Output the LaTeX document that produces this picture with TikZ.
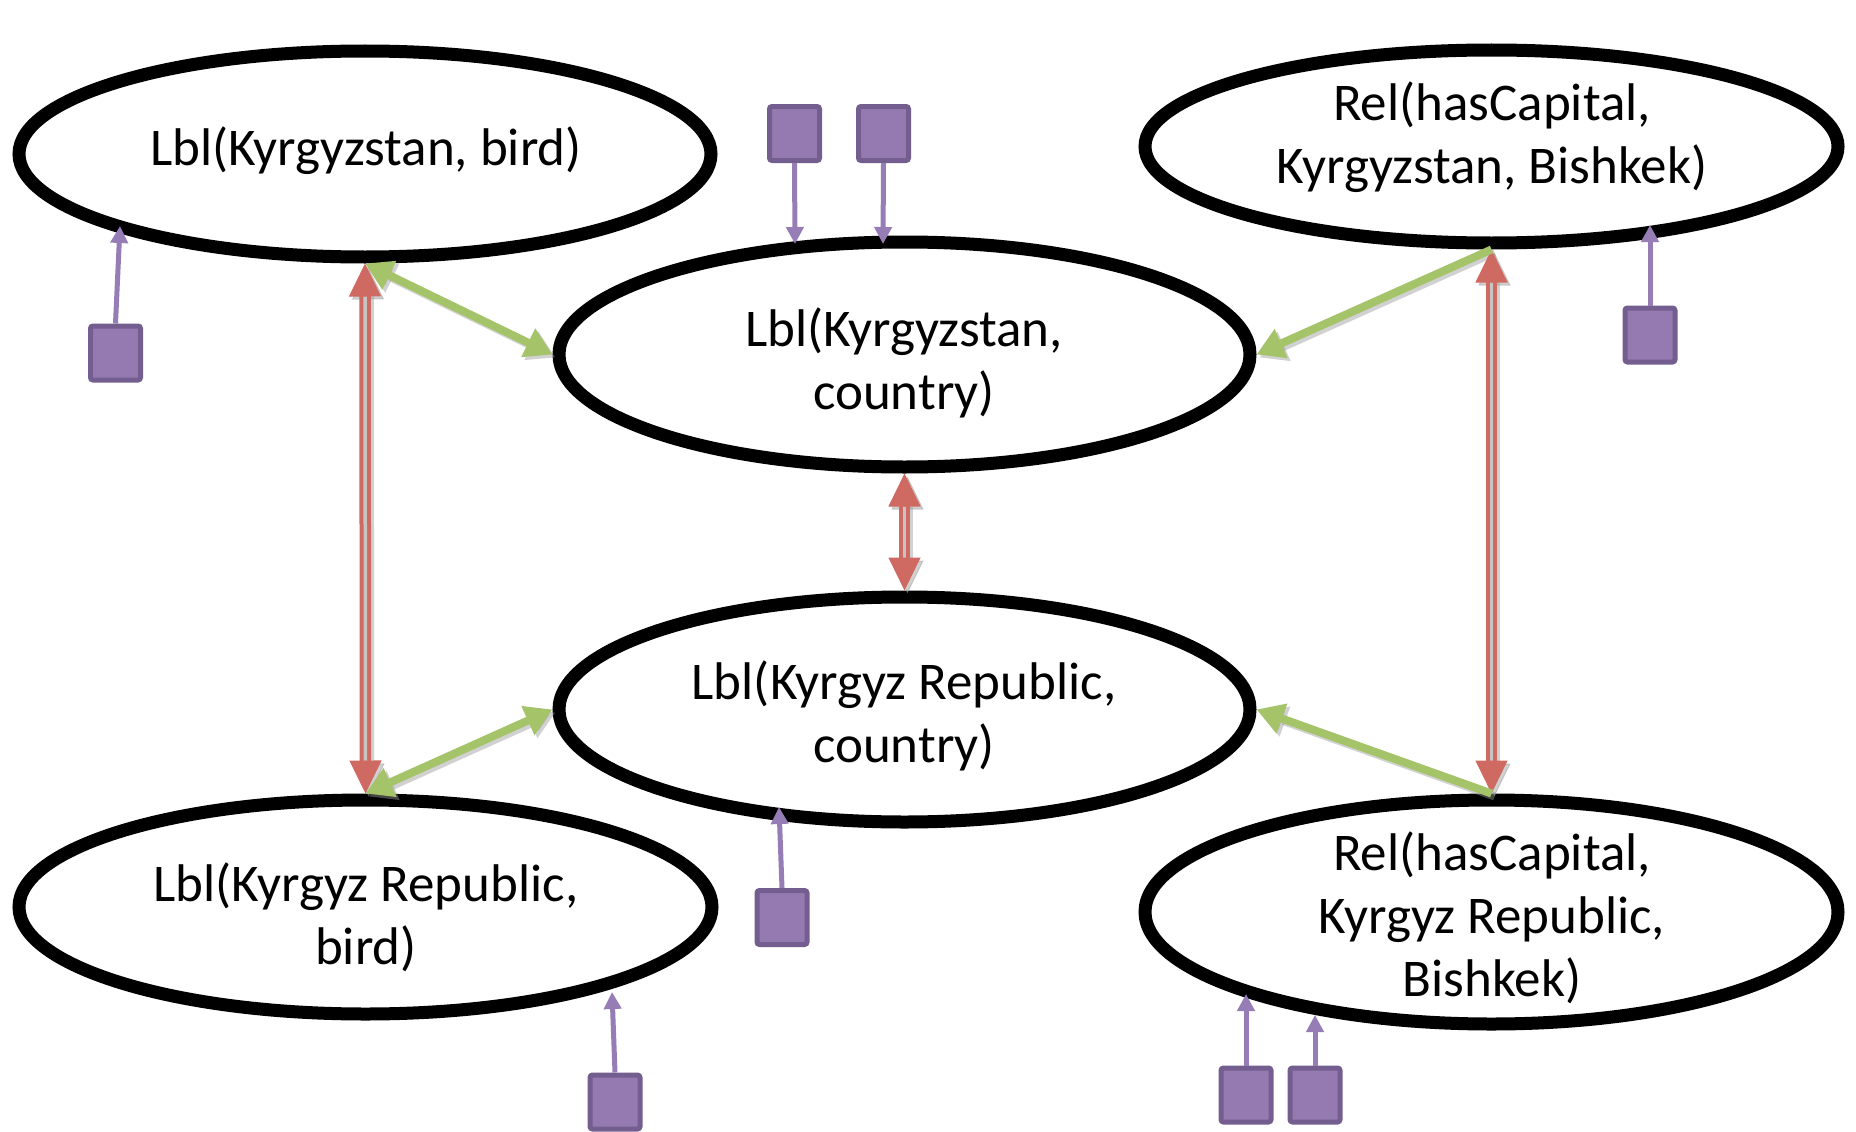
\documentclass[tikz,border=0pt]{standalone}
\usepackage{fontspec}
\setmainfont{Carlito}
\usetikzlibrary{shapes.geometric,arrows.meta,calc}

\definecolor{leaf}{HTML}{A5C46A}
\definecolor{brick}{HTML}{CF6A62}
\definecolor{plum}{HTML}{947AB0}
\definecolor{plumdark}{HTML}{735E8F}
\definecolor{plumline}{HTML}{967DB6}
\definecolor{gapgrey}{HTML}{C9C4C4}
\definecolor{shade}{HTML}{9A9A9A}

\tikzset{
  gtip/.tip={Triangle[width=30pt,length=27pt]},
  rtip/.tip={Triangle[width=32pt,length=33pt]},
  ptip/.tip={Triangle[width=17pt,length=17pt]},
}

% green links between facts
\newcommand\greenLinks{%
  \draw[glink, gtip-gtip] (e1.south) -- (e2.west);
  \draw[glink, -gtip] (e3.south) -- (e2.east);
  \draw[glink, gtip-gtip] (e5.north) -- (e4.west);
  \draw[glink, -gtip] (e6.north) -- (e4.east);
}
% red double links with a head at each end
\newcommand\redLink[2]{%
  \draw[rshaft] (#1) -- (#2);
  \draw[rhead, -rtip] ($(#1)!33pt!(#2)$) -- (#1);
  \draw[rhead, -rtip] ($(#2)!33pt!(#1)$) -- (#2);
}
\newcommand\redLinks{%
  \redLink{e1.south}{e5.north}
  \redLink{e3.south}{e6.north}
  \redLink{e2.south}{e4.north}
}

\begin{document}
\begin{tikzpicture}[x=1pt,y=-1pt,
  fact/.style={ellipse, draw=black, line width=13pt, fill=white, inner sep=0pt},
  caption/.style={align=center, inner sep=0pt, font=\fontsize{53}{63}\selectfont},
  evid/.style={rectangle, draw=plumdark, fill=plum, line width=5pt,
    rounded corners=2.5pt, minimum width=50pt, minimum height=54pt, inner sep=0pt},
  plink/.style={draw=plumline, line width=5pt, -ptip},
  glink/.style={draw=leaf, line width=8pt},
  rshaft/.style={draw=brick, line width=4pt, double=gapgrey, double distance=3.5pt,
    shorten <=30pt, shorten >=30pt},
  rhead/.style={draw=brick, fill=brick, line width=1pt},
]
\useasboundingbox (0,0) rectangle (1856,1132);
\fill[white] (0,0) rectangle (1856,1132);

% fact ellipses
\node[fact, minimum width=692pt, minimum height=206pt] (e1) at (365,154) {};
\node[fact, minimum width=691pt, minimum height=225pt] (e2) at (904.5,354.5) {};
\node[fact, minimum width=693pt, minimum height=193pt] (e3) at (1491.5,146.5) {};
\node[fact, minimum width=691pt, minimum height=225pt] (e4) at (904.5,709.5) {};
\node[fact, minimum width=693pt, minimum height=214pt] (e5) at (365.5,907) {};
\node[fact, minimum width=693pt, minimum height=224pt] (e6) at (1491.5,912) {};

% soft shadows under the links
\begin{scope}[transform canvas={shift={(3,3)}}, opacity=.45,
  glink/.style={draw=shade, line width=8pt},
  rshaft/.style={draw=shade, line width=11.5pt, shorten <=30pt, shorten >=30pt},
  rhead/.style={draw=shade, fill=shade, line width=1pt}]
  \greenLinks
  \redLinks
\end{scope}

% links
\redLinks
\greenLinks

% texts
\node[caption] (t1) at (366,151) {Lbl(Kyrgyzstan, bird)};
\node[caption] (t2) at (904,363) {Lbl(Kyrgyzstan,\\country)};
\node[caption] (t3) at (1492,137) {Rel(hasCapital,\\Kyrgyzstan, Bishkek)};
\node[caption] (t4) at (904,716) {Lbl(Kyrgyz Republic,\\country)};
\node[caption] (t5) at (366,917) {Lbl(Kyrgyz Republic,\\bird)};
\node[caption] (t6) at (1492,918) {Rel(hasCapital,\\Kyrgyz Republic,\\Bishkek)};

% arrow tips of the evidence links
\coordinate (p1) at (795,244);
\coordinate (p2) at (883,244);
\coordinate (p3) at (120,226);
\coordinate (p4) at (1650,225);
\coordinate (p5) at (779,807);
\coordinate (p6) at (612,992);
\coordinate (p7) at (1246,994);
\coordinate (p8) at (1315,1015);

% evidence squares
\node[evid] (s1) at (794.5,133.5) {};
\node[evid] (s2) at (883.5,133.5) {};
\node[evid] (s3) at (115.5,353) {};
\node[evid] (s4) at (1650,335) {};
\node[evid] (s5) at (782,917.5) {};
\node[evid] (s6) at (615,1102) {};
\node[evid] (s7) at (1246,1095) {};
\node[evid] (s8) at (1315,1095) {};

\draw[plink] (s1.south) -- (p1);
\draw[plink] (s2.south) -- (p2);
\draw[plink] (s3.north) -- (p3);
\draw[plink] (s4.north) -- (p4);
\draw[plink] (s5.north) -- (p5);
\draw[plink] (s6.north) -- (p6);
\draw[plink] (s7.north) -- (p7);
\draw[plink] (s8.north) -- (p8);
\end{tikzpicture}
\end{document}
